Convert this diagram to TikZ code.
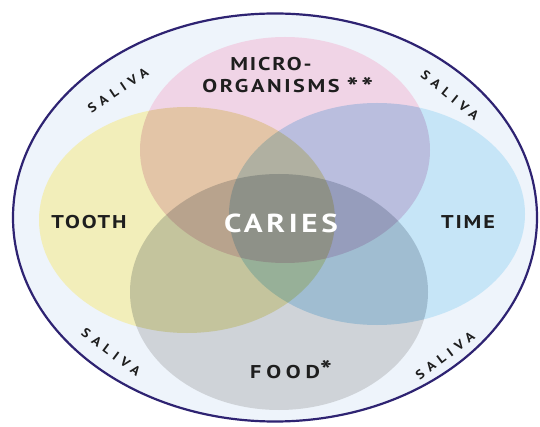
\documentclass[tikz,border=0pt]{standalone}
\usepackage{fontspec}
\newfontfamily\labfont[LetterSpace=10,FakeStretch=1.2]{PT Sans}
\newfontfamily\salfont[LetterSpace=40,FakeStretch=1.1]{PT Sans}
\newfontfamily\carfont[LetterSpace=14,FakeStretch=1.2]{PT Sans}
\newcommand{\bigast}{{\fontsize{26}{26}\selectfont *}}
\definecolor{ringfill}{HTML}{EEF4FB}
\definecolor{ringline}{HTML}{2E2372}
\definecolor{pinkc}{HTML}{F0D4E6}
\definecolor{yellowc}{HTML}{F2EEBA}
\definecolor{bluec}{HTML}{C6E5F7}
\definecolor{grayc}{HTML}{CFD3D8}
\definecolor{txt}{HTML}{1E1E1E}
\tikzset{
  blob/.style={draw=none, blend mode=multiply},
  lab/.style={font=\labfont\bfseries\fontsize{18.5}{22.5}\selectfont, text=txt, align=center, inner sep=0pt},
  sal/.style={font=\salfont\bfseries\fontsize{13}{15}\selectfont, text=txt, inner sep=0pt},
}
\begin{document}
\begin{tikzpicture}[x=1pt,y=-1pt]
\useasboundingbox (0,0) rectangle (540,427);
\fill[white] (0,0) rectangle (540,427);
% saliva ring
\draw[ringline, line width=2.2pt, fill=ringfill] (275,217.5) ellipse [x radius=262, y radius=204];
\begin{scope}[transparency group]
\fill[blob, fill=pinkc]   (285,150) ellipse [x radius=145, y radius=113];
\fill[blob, fill=yellowc] (187,220) ellipse [x radius=148, y radius=113];
\fill[blob, fill=bluec]   (377,214) ellipse [x radius=148, y radius=111];
\fill[blob, fill=grayc]   (279,292) ellipse [x radius=149, y radius=118];
\end{scope}
\node[lab] (micro) at (271,77) {MICRO-\\{\addfontfeatures{LetterSpace=14}ORGANISMS}\rlap{\hspace{7pt}\raisebox{-4pt}{\bigast}\hspace{3pt}\raisebox{-4pt}{\bigast}}};
\node[lab] (tooth) at (89,222) {TOOTH};
\node[lab] (time) at (468,222) {TIME};
\node[lab, anchor=west] (food) at (250,370) {{\addfontfeatures{LetterSpace=26}FOOD}\raisebox{-1pt}{\bigast}};
\node[font=\carfont\bfseries\fontsize{26}{28}\selectfont, text=white, inner sep=0pt] (caries) at (281,223) {CARIES};
\node[sal, rotate=34] (s1) at (118,90) {SALIVA};
\node[sal, rotate=-39] (s2) at (450,95) {SALIVA};
\node[sal, rotate=-37] (s3) at (111,352) {SALIVA};
\node[sal, rotate=37] (s4) at (445,356) {SALIVA};
\end{tikzpicture}
\end{document}
